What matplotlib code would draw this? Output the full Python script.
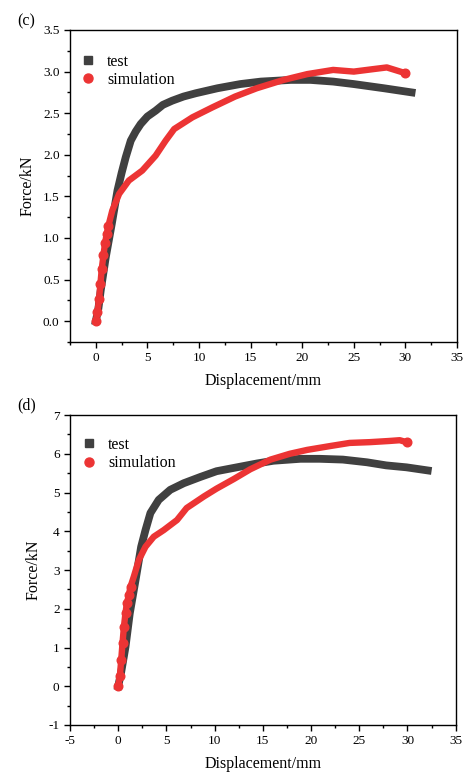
import matplotlib
matplotlib.use("Agg")
import matplotlib.pyplot as plt
from matplotlib.ticker import MultipleLocator, FormatStrFormatter

plt.rcParams['font.family'] = ['Liberation Serif', 'DejaVu Serif']
plt.rcParams['axes.unicode_minus'] = False

# ---- panel (c) data ----
c_test_x = [0.0, 0.25, 0.48, 0.97, 1.55, 2.1, 2.5, 2.9, 3.39, 3.87, 4.35, 5.0, 5.8, 6.5, 7.4, 8.5, 9.7, 11.8, 14.0, 16.0, 18.9, 20.8, 23.0, 25.0, 27.9, 30.6]
c_test_y = [0.0, 0.15, 0.37, 0.77, 1.17, 1.57, 1.78, 1.97, 2.17, 2.28, 2.37, 2.46, 2.53, 2.6, 2.65, 2.7, 2.74, 2.8, 2.85, 2.88, 2.9, 2.9, 2.88, 2.85, 2.8, 2.75]
c_sim_x = [0.0, 0.16, 0.32, 0.45, 0.58, 0.74, 0.9, 1.06, 1.23, 1.6, 2.26, 3.2, 4.5, 5.8, 6.77, 7.6, 9.36, 11.3, 13.5, 15.6, 18.2, 20.5, 23.0, 25.0, 26.9, 28.2, 29.5, 30.0]
c_sim_y = [0.0, 0.11, 0.27, 0.45, 0.63, 0.79, 0.94, 1.05, 1.15, 1.33, 1.53, 1.69, 1.81, 1.99, 2.17, 2.31, 2.45, 2.57, 2.7, 2.8, 2.9, 2.97, 3.02, 3.0, 3.03, 3.05, 3.0, 2.98]

# ---- panel (d) data ----
d_test_x = [0.0, 0.3, 0.76, 1.2, 1.8, 2.38, 2.83, 3.34, 4.2, 5.4, 6.8, 8.5, 10.2, 12.3, 14.4, 16.1, 18.9, 20.9, 23.3, 25.8, 27.8, 29.9, 32.1]
d_test_y = [0.0, 0.35, 1.02, 1.88, 2.74, 3.6, 4.03, 4.47, 4.81, 5.07, 5.24, 5.4, 5.55, 5.65, 5.75, 5.82, 5.87, 5.87, 5.85, 5.78, 5.7, 5.65, 5.57]
d_sim_x = [0.0, 0.17, 0.31, 0.45, 0.59, 0.76, 0.9, 1.1, 1.28, 1.62, 2.14, 2.83, 3.69, 4.72, 6.1, 7.1, 8.9, 10.2, 12.0, 13.7, 15.8, 17.8, 19.6, 22.0, 24.0, 26.1, 28.1, 29.2, 29.9]
d_sim_y = [0.0, 0.26, 0.67, 1.12, 1.53, 1.9, 2.14, 2.35, 2.57, 2.83, 3.26, 3.6, 3.86, 4.03, 4.29, 4.6, 4.9, 5.1, 5.35, 5.6, 5.85, 6.0, 6.1, 6.2, 6.28, 6.3, 6.33, 6.35, 6.3]

labels = ['test', 'simulation']
gray = '#404040'
red = '#ec3434'

fig = plt.figure(figsize=(4.65, 7.73), dpi=100)
ax1 = fig.add_axes([0.1505, 0.5576, 0.8323, 0.4036])
ax2 = fig.add_axes([0.1505, 0.0621, 0.8295, 0.4010])


def draw(ax, tx, ty, sx, sy, xlim, ylim, xmaj, ymaj, yfmt, nsparse, leg_anchor):
    ax.plot(tx, ty, color=gray, lw=5.6, solid_capstyle='projecting',
            solid_joinstyle='round', zorder=2)
    ax.plot(sx, sy, color=red, lw=4.6, marker='o', ms=6.2,
            markevery=list(range(nsparse)) + [len(sx) - 1],
            solid_capstyle='round', solid_joinstyle='round', zorder=3)
    # legend proxies
    ax.plot([], [], ls='none', marker='s', ms=5.5, color=gray, label=labels[0])
    ax.plot([], [], ls='none', marker='o', ms=6.5, color=red, label=labels[1])
    ax.set_xlim(*xlim)
    ax.set_ylim(*ylim)
    ax.xaxis.set_major_locator(MultipleLocator(xmaj))
    ax.xaxis.set_minor_locator(MultipleLocator(xmaj / 2))
    ax.yaxis.set_major_locator(MultipleLocator(ymaj))
    ax.yaxis.set_minor_locator(MultipleLocator(ymaj / 2))
    ax.yaxis.set_major_formatter(yfmt)
    ax.tick_params(which='both', direction='out', top=False, right=False, labelsize=9.5, width=1)
    ax.tick_params(which='major', length=4)
    ax.tick_params(which='minor', length=2.5)
    for s in ax.spines.values():
        s.set_linewidth(1)
    ax.set_xlabel('Displacement/mm', fontsize=11.5, labelpad=6)
    ax.set_ylabel('Force/kN', fontsize=11.5, labelpad=5)
    ax.legend(loc='upper left', frameon=False, fontsize=11.5,
              handlelength=0.6, handletextpad=0.9, borderaxespad=0.0,
              labelspacing=0.15, bbox_to_anchor=leg_anchor)


draw(ax1, c_test_x, c_test_y, c_sim_x, c_sim_y, (-2.5, 35), (-0.25, 3.5), 5, 0.5,
     FormatStrFormatter('%.1f'), 9, (0.018, 0.945))
draw(ax2, d_test_x, d_test_y, d_sim_x, d_sim_y, (-5, 35), (-1, 7), 5, 1,
     FormatStrFormatter('%d'), 9, (0.02, 0.95))

fig.text(0.038, 0.972, '(c)', fontsize=11.5, va='center')
fig.text(0.038, 0.476, '(d)', fontsize=11.5, va='center')

fig.savefig('out.png', dpi=100)
